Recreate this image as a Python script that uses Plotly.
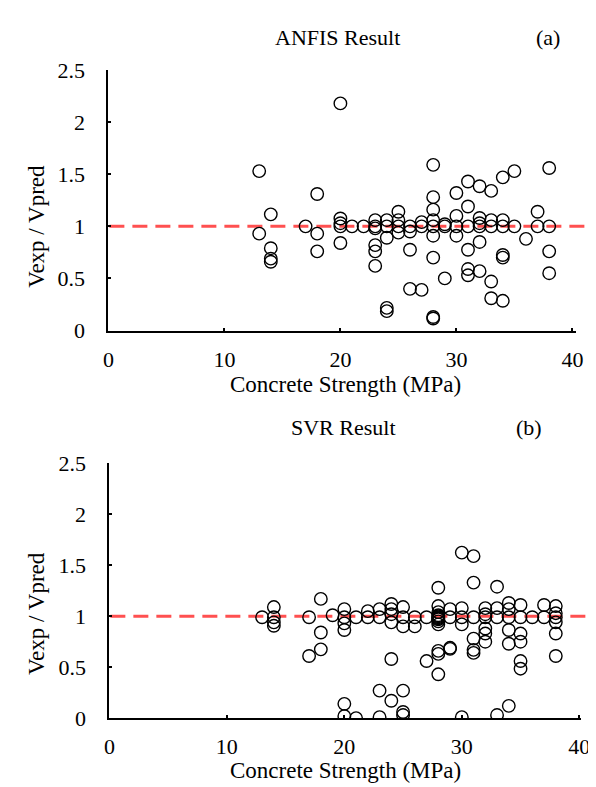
import plotly.graph_objects as go

# ---------------- data ----------------
anfis_strength = [13, 13, 14, 14, 14, 14, 17, 18, 18, 18,
                  20, 20, 20, 20, 20, 21, 22,
                  23, 23, 23, 23, 23, 23,
                  24, 24, 24, 24, 24,
                  25, 25, 25, 25,
                  26, 26, 26, 26,
                  27, 27, 27,
                  28, 28, 28, 28, 28, 28, 28, 28, 28,
                  29, 29, 29,
                  30, 30, 30, 30,
                  31, 31, 31, 31, 31, 31,
                  32, 32, 32, 32, 32, 32,
                  33, 33, 33, 33, 33,
                  34, 34, 34, 34, 34, 34,
                  35, 35, 36, 37, 37,
                  38, 38, 38, 38]
anfis_ratio = [1.53, 0.93, 1.115, 0.79, 0.69, 0.66, 1.0, 1.31, 0.93, 0.76,
               2.18, 1.075, 1.03, 1.0, 0.84, 1.0, 1.0,
               1.06, 1.0, 0.98, 0.82, 0.76, 0.62,
               1.06, 1.0, 0.89, 0.217, 0.186,
               1.14, 1.06, 1.0, 0.94,
               1.0, 0.95, 0.775, 0.40,
               1.04, 1.0, 0.39,
               1.59, 1.28, 1.16, 1.06, 1.0, 0.91, 0.70, 0.13, 0.115,
               1.02, 1.0, 0.50,
               1.32, 1.10, 1.0, 0.91,
               1.43, 1.19, 1.0, 0.775, 0.59, 0.53,
               1.385, 1.08, 1.03, 1.0, 0.85, 0.57,
               1.34, 1.06, 1.0, 0.47, 0.31,
               1.47, 1.06, 1.0, 0.725, 0.70, 0.285,
               1.53, 1.0, 0.88, 1.14, 1.0,
               1.56, 1.0, 0.76, 0.55]

svr_strength = [13, 14, 14, 14, 14,
                17, 17, 18, 18, 18, 19,
                20, 20, 20, 20, 20, 20,
                21, 21, 22, 22,
                23, 23, 23, 23,
                24, 24, 24, 24, 24, 24,
                25, 25, 25, 25, 25, 25,
                26, 26, 27, 27,
                28, 28, 28, 28, 28, 28, 28, 28, 28, 28, 28, 28, 28,
                29, 29, 29, 29,
                30, 30, 30, 30, 30,
                31, 31, 31, 31, 31, 31,
                32, 32, 32, 32, 32, 32,
                33, 33, 33, 33,
                34, 34, 34, 34, 34, 34,
                35, 35, 35, 35, 35, 35,
                36, 37, 37,
                38, 38, 38, 38, 38, 38]
svr_ratio = [0.99, 1.09, 0.99, 0.94, 0.906,
             0.99, 0.61, 1.17, 0.84, 0.675, 1.01,
             1.07, 0.99, 0.93, 0.865, 0.14, 0.02,
             0.99, 0.0, 1.05, 0.99,
             1.07, 0.99, 0.27, 0.01,
             1.12, 1.07, 1.02, 0.94, 0.58, 0.17,
             1.09, 0.99, 0.90, 0.27, 0.06, 0.03,
             0.99, 0.90, 0.99, 0.56,
             1.28, 1.10, 1.04, 1.01, 1.0, 0.99, 0.98, 0.97, 0.95, 0.92, 0.66, 0.63, 0.43,
             1.07, 0.99, 0.69, 0.68,
             1.625, 1.08, 0.99, 0.92, 0.01,
             1.59, 1.33, 0.99, 0.78, 0.67, 0.64,
             1.08, 1.02, 0.99, 0.88, 0.83, 0.75,
             1.29, 1.08, 0.99, 0.03,
             1.13, 1.07, 0.99, 0.865, 0.73, 0.12,
             1.11, 0.99, 0.83, 0.75, 0.56, 0.485,
             0.99, 1.11, 0.99,
             1.10, 1.03, 0.99, 0.94, 0.83, 0.61]

x_ticks = [0, 10, 20, 30, 40]
y_ticks = [0, 0.5, 1, 1.5, 2, 2.5]
y_tick_labels = ["0", "0.5", "1", "1.5", "2", "2.5"]
reference_ratio = 1.0

# ---------------- figure ----------------
W, H = 596, 787
FONT = "Liberation Serif, Times New Roman, serif"
FS = 22

def px(x):
    return x / W

def py(y):
    return 1 - y / H

marker = dict(symbol="circle-open", size=12.5, color="black", line=dict(width=1.4, color="black"))

fig = go.Figure()
fig.add_trace(go.Scatter(x=anfis_strength, y=anfis_ratio, mode="markers", marker=marker,
                         xaxis="x", yaxis="y", showlegend=False))
fig.add_trace(go.Scatter(x=svr_strength, y=svr_ratio, mode="markers", marker=marker,
                         xaxis="x2", yaxis="y2", showlegend=False))

axis_common = dict(showline=True, linecolor="black", linewidth=2, ticks="inside", ticklen=3,
                   tickwidth=2, tickcolor="black", showgrid=False, zeroline=False,
                   tickfont=dict(family=FONT, size=FS, color="black"))

fig.update_layout(
    width=W, height=H,
    margin=dict(l=0, r=0, t=0, b=0),
    paper_bgcolor="white", plot_bgcolor="white",
    xaxis=dict(domain=[px(97.7), px(577)], range=[0, 40.35], tickvals=x_ticks,
               anchor="y", ticklabelstandoff=8, **axis_common),
    yaxis=dict(domain=[py(320.7), py(51.7)], range=[0, 2.5], tickvals=y_ticks,
               ticktext=y_tick_labels, anchor="x", ticklabelstandoff=17, **axis_common),
    xaxis2=dict(domain=[px(98.7), px(581.7)], range=[0, 40.15], tickvals=x_ticks,
                anchor="y2", ticklabelstandoff=8, **axis_common),
    yaxis2=dict(domain=[py(721), py(458)], range=[0, 2.5], tickvals=y_ticks,
                ticktext=y_tick_labels, anchor="x2", ticklabelstandoff=17, **axis_common),
)

dash = dict(color="#ff5050", width=3, dash="15px,8px")
fig.add_shape(type="line", xref="paper", yref="y", x0=px(98.7), x1=px(594),
              y0=reference_ratio, y1=reference_ratio, line=dash, layer="below")
fig.add_shape(type="line", xref="paper", yref="y2", x0=px(99.7), x1=px(594),
              y0=reference_ratio, y1=reference_ratio, line=dash, layer="below")

def ann(text, x, y, angle=0, size=FS):
    fig.add_annotation(text=text, x=px(x), y=py(y), xref="paper", yref="paper",
                       showarrow=False, textangle=angle, xanchor="center", yanchor="middle",
                       font=dict(family=FONT, size=size, color="black"))

ann("ANFIS Result", 332, 18)
ann("(a)", 548, 18)
ann("SVR Result", 338, 421)
ann("(b)", 528, 421)
ann("Concrete Strength (MPa)", 340, 376, size=23)
ann("Concrete Strength (MPa)", 340, 775, size=23)
ann("Vexp / Vpred", 24, 213, -90, size=23)
ann("Vexp / Vpred", 24, 613, -90, size=23)

fig.write_html("out.html")
